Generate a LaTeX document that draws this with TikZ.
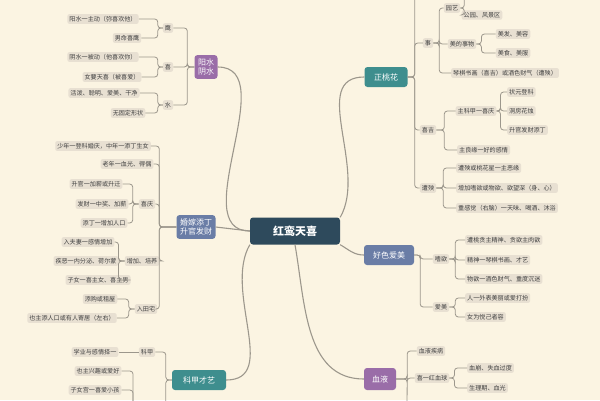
\documentclass[tikz,border=0pt]{standalone}
\usepackage{fontspec}
\setmainfont{Noto Sans CJK SC}
\begin{document}
\begin{tikzpicture}[x=1pt,y=-1pt,
  leaf/.style={fill=lf,rounded corners=2pt,inner sep=2pt,font=\fontsize{6.1}{7}\selectfont,text=black!75},
  mb/.style={fill=#1,rounded corners=3pt,text=white,inner sep=3.5pt,font=\fontsize{8}{9.5}\selectfont,align=center},
  br/.style={draw=ln,line width=0.8pt,rounded corners=3pt},
  mainl/.style={draw=ln,line width=1.1pt}]
\definecolor{bg}{HTML}{FBF4E2}
\definecolor{lf}{HTML}{E8E0D2}
\definecolor{ln}{HTML}{9C978C}
\definecolor{pur}{HTML}{9A6DA8}
\definecolor{blg}{HTML}{6A7DA6}
\definecolor{tea}{HTML}{3E8E8E}
\definecolor{nav}{HTML}{2E4A5C}
\fill[bg] (0,0) rectangle (600,400);
\useasboundingbox (0,0) rectangle (600,400);
% center
\node[fill=nav,rounded corners=3pt,text=white,font=\fontsize{11}{12}\selectfont\bfseries,minimum width=90pt,minimum height=27pt] (c) at (295,231) {红鸾天喜};
% main branches
\node[mb=pur] (yy) at (206,67) {阳水\\阴水};
\node[mb=blg] (hj) at (196,227) {婚嫁添丁\\升官发财};
\node[mb=tea,minimum width=54pt,minimum height=20pt] (kj) at (199,380) {科甲才艺};
\node[mb=tea,minimum width=43pt,minimum height=20pt] (zt) at (386,77) {正桃花};
\node[mb=blg,minimum width=50pt,minimum height=20pt] (hs) at (389,255) {好色爱美};
\node[mb=pur,minimum width=32pt,minimum height=22pt] (xy) at (380,379) {血液};
\draw[mainl] (c.west) to[out=180,in=0] (yy.east);
\draw[mainl] (c.west) -- (hj.east);
\draw[mainl] (c.south west) to[out=240,in=0] (kj.east);
\draw[mainl] (c.north east) to[out=60,in=180] (zt.west);
\draw[mainl] (c.south east) to[out=-30,in=180] (hs.west);
\draw[mainl] (c.south) to[out=-80,in=180] (xy.west);
% ---- 阳水阴水
\node[leaf] (y1) at (168,28) {鹰};
\node[leaf] (y2) at (168,67) {喜};
\node[leaf] (y3) at (168,105) {水};
\foreach \n in {y1,y2,y3} \draw[br] (yy.west) -- ++(-7,0) |- (\n.east);
\node[leaf] (y11) at (103,19) {阳水一主动（弥喜欢他）};
\node[leaf] (y12) at (127,38) {男命喜鹰};
\node[leaf] (y21) at (103,57) {阴水一被动（他喜欢你）};
\node[leaf] (y22) at (112,77) {女要天喜（被喜爱）};
\node[leaf] (y31) at (104,93) {活泼、聪明、爱美、干净};
\node[leaf] (y32) at (128,113) {无固定形状};
\foreach \p/\n in {y1/y11,y1/y12,y2/y21,y2/y22,y3/y31,y3/y32} \draw[br] (\p.west) -- ++(-5,0) |- (\n.east);
% ---- 婚嫁添丁
\node[leaf] (h1) at (103,146) {少年一登科婚庆，中年一添丁生女};
\node[leaf] (h2) at (127,164) {老年一血光、得偶};
\node[leaf] (h3) at (147,204) {喜庆};
\node[leaf] (h4) at (142,261) {增加、培养};
\node[leaf] (h5) at (146,309) {入田宅};
\foreach \n in {h1,h2,h3,h4,h5} \draw[br] (hj.west) -- ++(-17,0) |- (\n.east);
\node[leaf] (h31) at (96,184) {升官一加薪或升迁};
\node[leaf] (h32) at (102,204) {发财一中奖、加薪};
\node[leaf] (h33) at (104,223) {添丁一增加人口};
\node[leaf] (h41) at (88,242) {入夫妻一感情增加};
\node[leaf] (h42) at (86,261) {疾恶一内分泌、荷尔蒙};
\node[leaf] (h43) at (98,280) {子女一喜主女、喜主男};
\node[leaf] (h51) at (100,299) {添购或租屋};
\node[leaf] (h52) at (72,318) {也主添人口或有人寄居（左右）};
\foreach \p/\n in {h3/h31,h3/h32,h3/h33,h4/h41,h4/h42,h4/h43,h5/h51,h5/h52} \draw[br] (\p.west) -- ++(-6,0) |- (\n.east);
% ---- 科甲才艺
\node[leaf] (k1) at (147,352) {科甲};
\coordinate (k2) at (150,412);
\draw[br] (kj.west) -- ++(-6,0) |- (k1.east);
\draw[br] (kj.west) -- ++(-6,0) |- (k2);
\node[leaf] (k11) at (95,352) {学业与感情择一};
\draw[br] (k1.west) -- (k11.east);
\node[leaf] (k21) at (98,371) {也主兴趣或爱好};
\node[leaf] (k22) at (95,390) {子女宫一喜爱小孩};
\coordinate (k2b) at (133,412);
\draw[br] (k2b) |- (k21.east);
\draw[br] (k2b) |- (k22.east);
% ---- 正桃花
\node[leaf] (z1) at (428,43) {事};
\node[leaf] (z2) at (428,130) {喜吉};
\node[leaf] (z3) at (428,188) {遭殃};
\coordinate (z0) at (425,-5);
\foreach \n in {z1,z2,z3} \draw[br] (zt.east) -- ++(7,0) |- (\n.west);
\draw[br] (zt.east) -- ++(7,0) |- (z0);
\node[leaf] (z11) at (452,8) {园艺};
\node[leaf] (z12) at (462,44) {美的事物};
\node[leaf,anchor=west] (z13) at (451,73) {琴棋书画（喜吉）或酒色财气（遭殃）};
\foreach \n in {z11,z12,z13} \draw[br] (z1.east) -- ++(6,0) |- (\n.west);
\node[leaf] (z111) at (482,15) {公园、风景区};
\coordinate (z110) at (478,-4);
\draw[br] (z11.east) -- ++(4,0) |- (z111.west);
\draw[br] (z11.east) -- ++(4,0) |- (z110);
\node[leaf] (z121) at (513,34) {美发、美容};
\node[leaf] (z122) at (513,53) {美食、美服};
\foreach \n in {z121,z122} \draw[br] (z12.east) -- ++(5,0) |- (\n.west);
\node[leaf] (z21) at (476,111) {主科甲一喜庆};
\node[leaf,anchor=west] (z22) at (457,150) {主良缘一好的感情};
\foreach \n in {z21,z22} \draw[br] (z2.east) -- ++(8,0) |- (\n.west);
\node[leaf,anchor=west] (z211) at (507,92) {状元登科};
\node[leaf,anchor=west] (z212) at (507,111) {洞房花烛};
\node[leaf,anchor=west] (z213) at (507,130) {升官发财添丁};
\foreach \n in {z211,z212,z213} \draw[br] (z21.east) -- ++(4,0) |- (\n.west);
\node[leaf,anchor=west] (z31) at (456,168) {遭殃或桃花星一主恶缘};
\node[leaf,anchor=west] (z32) at (456,188) {增加嗜欲或物欲、欲望深（身、心）};
\node[leaf,anchor=west] (z33) at (456,208) {重感觉（右脑）一天味、喝酒、沐浴};
\foreach \n in {z31,z32,z33} \draw[br] (z3.east) -- ++(7,0) |- (\n.west);
% ---- 好色爱美
\node[leaf] (s1) at (441,259) {嗜欲};
\node[leaf] (s2) at (441,307) {爱美};
\foreach \n in {s1,s2} \draw[br] (hs.east) -- ++(6,0) |- (\n.west);
\node[leaf,anchor=west] (s11) at (465,240) {遭桃贪主精神、贪欲主肉欲};
\node[leaf,anchor=west] (s12) at (465,260) {精神一琴棋书画、才艺};
\node[leaf,anchor=west] (s13) at (465,279) {物欲一酒色财气、重度沉迷};
\foreach \n in {s11,s12,s13} \draw[br] (s1.east) -- ++(6,0) |- (\n.west);
\node[leaf,anchor=west] (s21) at (465,298) {人一外表美丽或爱打扮};
\node[leaf,anchor=west] (s22) at (465,317) {女为悦己者容};
\foreach \n in {s21,s22} \draw[br] (s2.east) -- ++(6,0) |- (\n.west);
% ---- 血液
\node[leaf] (x1) at (431,351) {血液疾病};
\node[leaf] (x2) at (432,378) {喜一红血球};
\coordinate (x3) at (407,410);
\foreach \n in {x1,x2} \draw[br] (xy.east) -- ++(11,0) |- (\n.west);
\draw[br] (xy.east) -- ++(11,0) -- (x3);
\node[leaf,anchor=west] (x21) at (467,368) {血崩、失血过度};
\node[leaf,anchor=west] (x22) at (467,388) {生理期、血光};
\foreach \n in {x21,x22} \draw[br] (x2.east) -- ++(5,0) |- (\n.west);
\end{tikzpicture}
\end{document}
